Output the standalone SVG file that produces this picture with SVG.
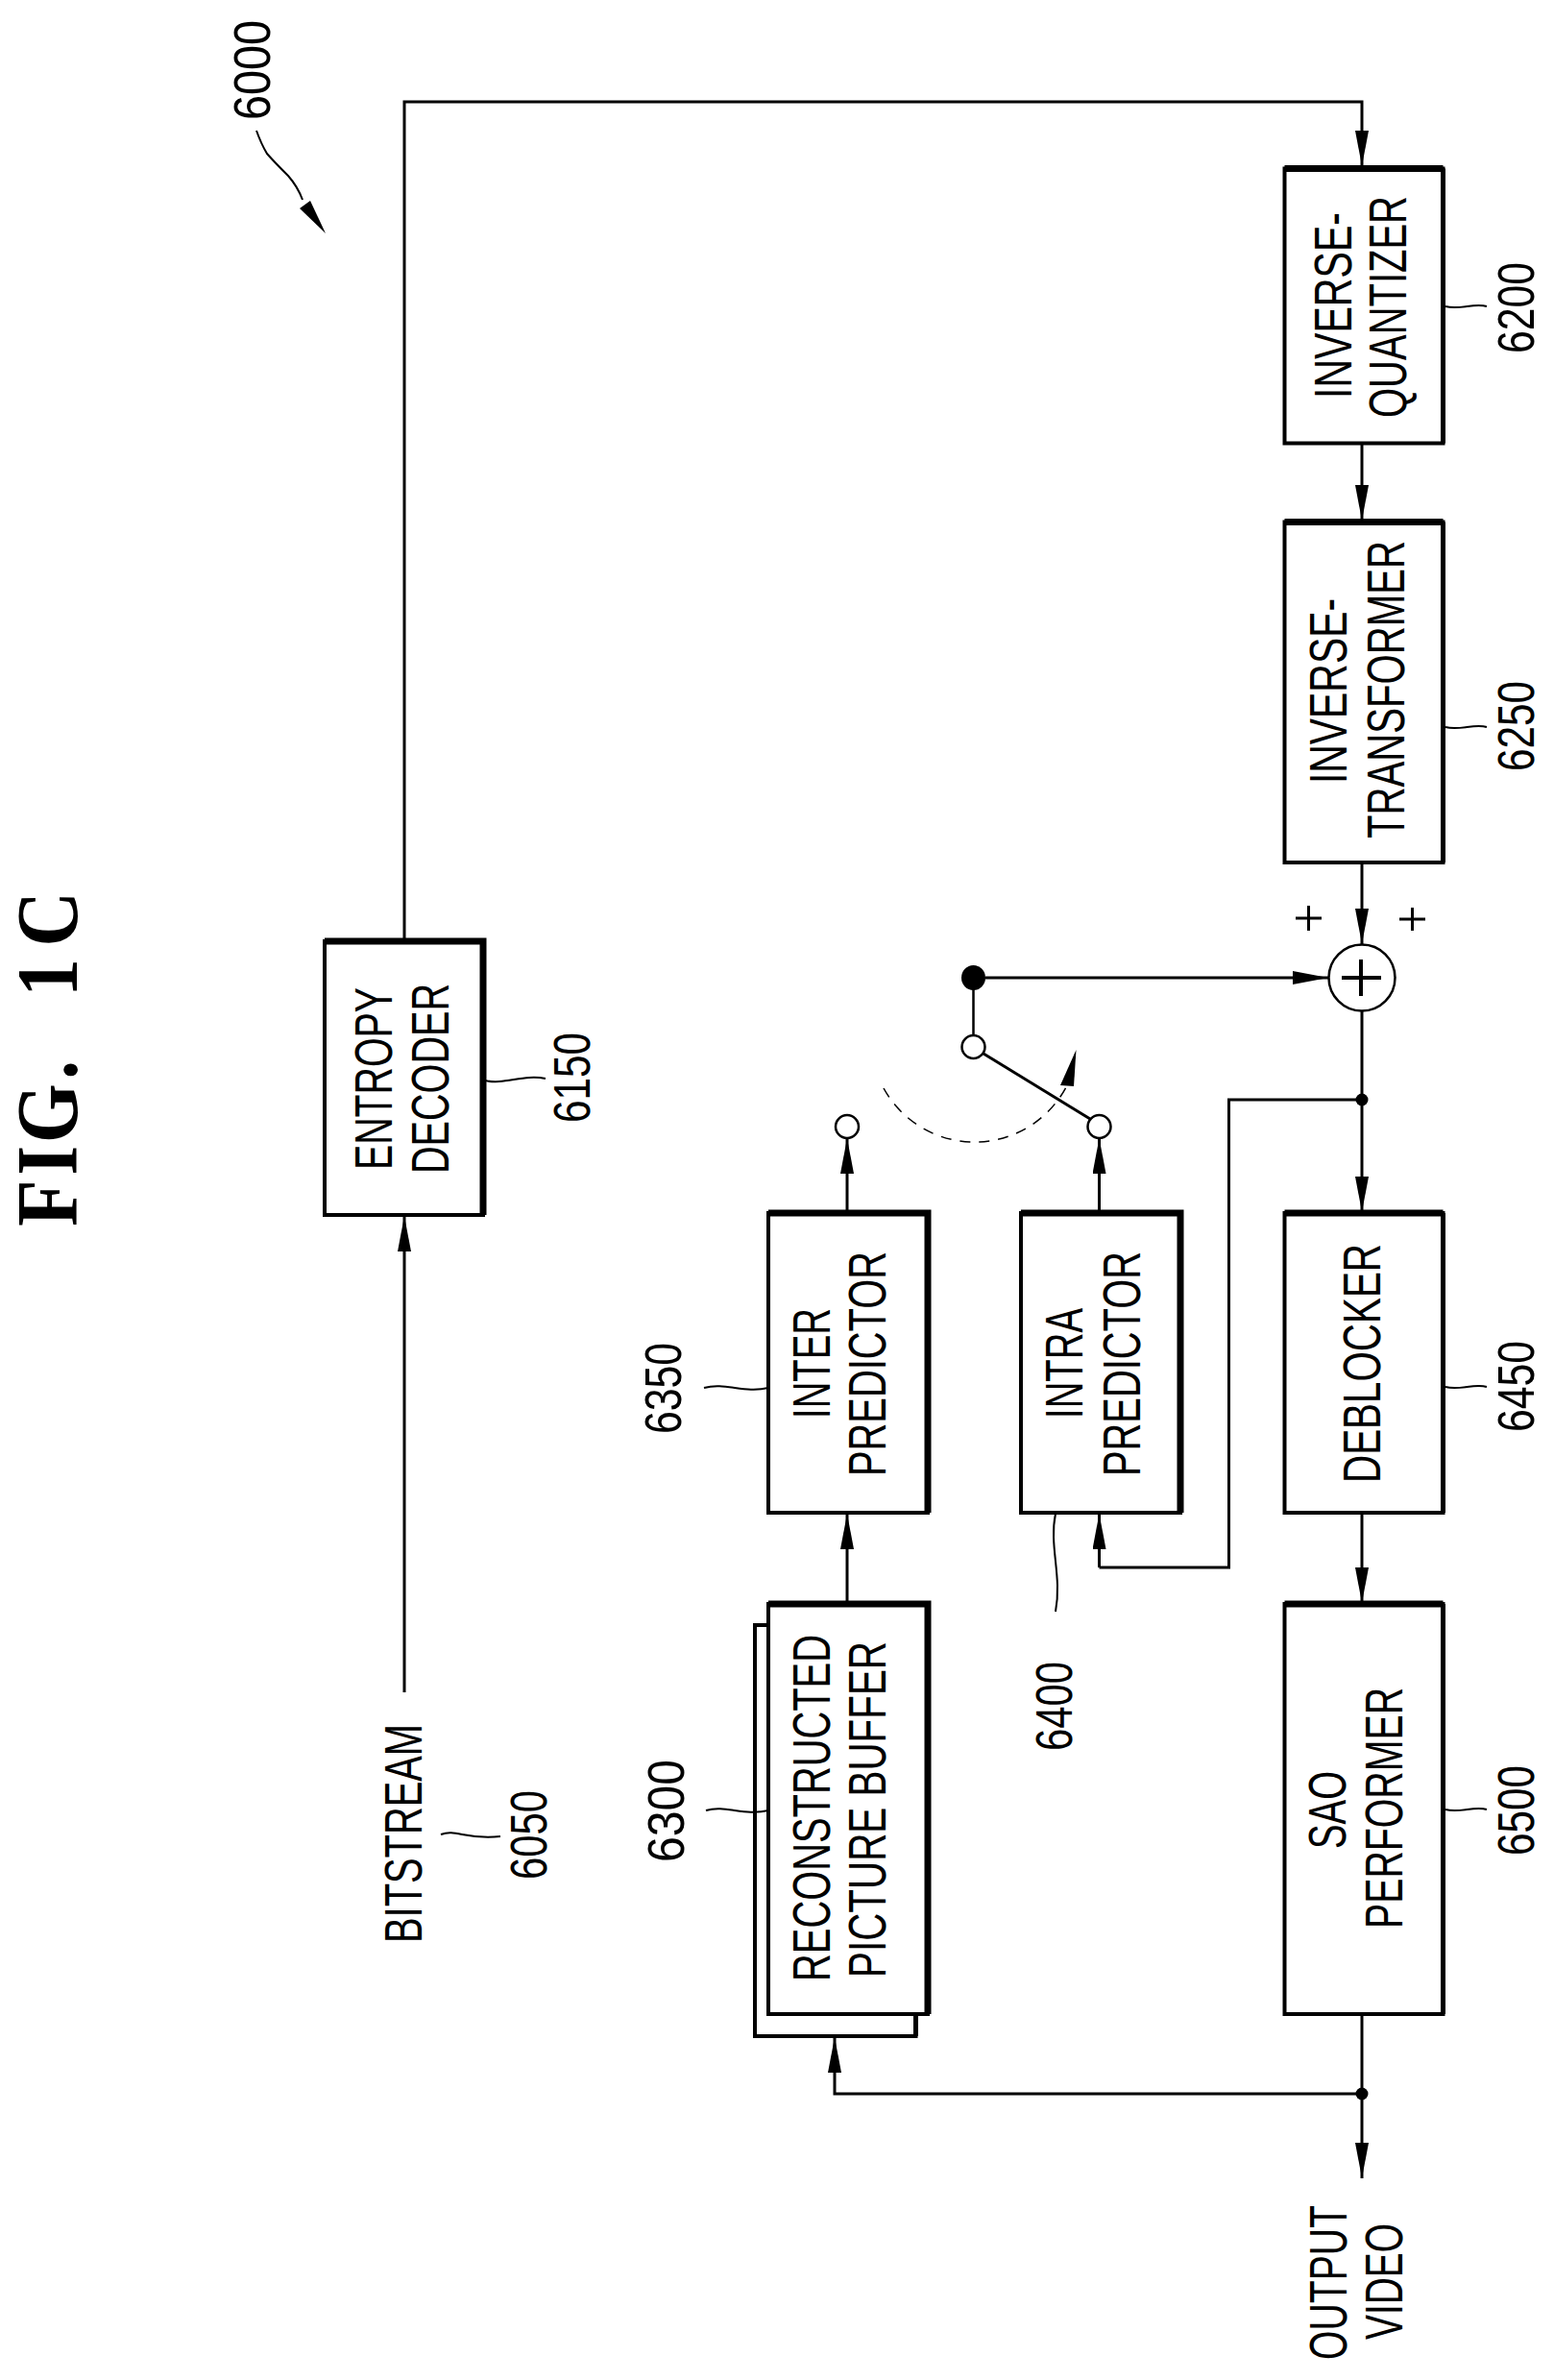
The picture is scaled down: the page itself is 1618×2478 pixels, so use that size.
<svg xmlns="http://www.w3.org/2000/svg" width="1618" height="2478" viewBox="0 0 1618 2478">
<style>
text{font-family:"Liberation Sans",Arial,sans-serif;fill:#000}
.l{font-size:56px}
.n{font-size:54px}
.t{font-family:"Liberation Serif","Times New Roman",serif;font-weight:bold;font-size:91px}
.b{fill:#fff;stroke:#000;stroke-width:4}
.s{fill:none;stroke:#000;stroke-width:7}
.r{fill:none;stroke:#000;stroke-width:5}
.c{fill:none;stroke:#000;stroke-width:3}
.a{marker-end:url(#arr)}
.w{fill:none;stroke:#000;stroke-width:2}
.o{fill:#fff;stroke:#000;stroke-width:2.5}
.d{fill:#000}
</style>
<defs>
<marker id="arr" markerUnits="userSpaceOnUse" markerWidth="38" markerHeight="14" viewBox="0 0 38 14" refX="37" refY="7" orient="auto"><path d="M0,0 L37,7 L0,14 z" fill="#000"/></marker>
</defs>
<rect width="1618" height="2478" fill="#fff"/>
<g id="title"><text class="t" transform="translate(80,1276) rotate(-90) scale(.87,1)" x="-1 60 99 175 200 274 334" y="0">FIG. 1C</text></g>
<g id="connectors">
<path class="c a" d="M421,980 V106 H1418 V173"/>
<path class="c a" d="M1418,462 V542"/>
<path class="c a" d="M1418,898 V983"/>
<path class="c a" d="M1026,1018 H1383"/>
<path class="c" style="stroke-width:2.500" d="M1013.500,1030 V1078"/>
<path class="c a" d="M1418,1053 V1262"/>
<path class="c" d="M1418,1145 H1279.500 V1632 H1144.500"/>
<path class="c a" d="M1144.500,1632 V1576"/>
<path class="c a" d="M882,1262 V1185"/>
<path class="c a" d="M1144.500,1262 V1185"/>
<path class="c a" d="M882,1670 V1576"/>
<path class="c a" d="M1418,1575 V1669"/>
<path class="c a" d="M421,1762 V1266"/>
<path class="c a" d="M1418,2097 V2268"/>
<path class="c a" d="M1418,2180 H869 V2121"/>
<circle class="d" cx="1418" cy="1145" r="6.500"/>
<circle class="d" cx="1418" cy="2180" r="6.500"/>
<path d="M920,1133 A108,108 0 0 0 1111,1130" fill="none" stroke="#000" stroke-width="1.500" stroke-dasharray="11 9"/>
<path d="M1120.500,1093 L1104,1130 L1118,1131 z" fill="#000"/>
<path class="w" d="M267,136 C272,150 275,155 278,160 C285,168 292,175 300,183 C308,192 312,200 315,208"/>
<path d="M339,243 L312,217 L323,209 z" fill="#000"/>
</g>
<g id="n6000"><text class="n" transform="translate(281,125) rotate(-90)" textLength="104" lengthAdjust="spacingAndGlyphs">6000</text></g>
<g id="n6050"><text class="l" transform="translate(439,2023) rotate(-90)" textLength="228" lengthAdjust="spacingAndGlyphs">BITSTREAM</text><path class="w" d="M459,1910 C475,1904 485,1916 521,1912"/><text class="n" transform="translate(569,1957) rotate(-90)" textLength="93" lengthAdjust="spacingAndGlyphs">6050</text></g>
<g id="n6150"><rect class="b" x="338" y="980" width="165" height="285"/><path class="s" d="M338,980 H503 V1265"/><text class="l" transform="translate(408,1218) rotate(-90)" textLength="190" lengthAdjust="spacingAndGlyphs">ENTROPY</text><text class="l" transform="translate(467,1222) rotate(-90)" textLength="198" lengthAdjust="spacingAndGlyphs">DECODER</text><path class="w" d="M505,1125 C525,1130 545,1118 568,1123"/><text class="n" transform="translate(614,1169) rotate(-90)" textLength="94" lengthAdjust="spacingAndGlyphs">6150</text></g>
<g id="n6200"><rect class="b" x="1337.500" y="175.500" width="165" height="286"/><path class="s" d="M1337.500,175.500 H1502.500"/><path class="r" d="M1502.500,175.500 V461.500"/><text class="l" transform="translate(1407,415) rotate(-90)" textLength="194" lengthAdjust="spacingAndGlyphs">INVERSE-</text><text class="l" transform="translate(1464,435) rotate(-90)" textLength="231" lengthAdjust="spacingAndGlyphs">QUANTIZER</text><path class="w" d="M1505,319 C1520,323 1535,315 1548,319"/><text class="n" transform="translate(1597,368) rotate(-90)" textLength="95" lengthAdjust="spacingAndGlyphs">6200</text></g>
<g id="n6250"><rect class="b" x="1337.500" y="543.500" width="165" height="354.500"/><path class="s" d="M1337.500,543.500 H1502.500"/><path class="r" d="M1502.500,543.500 V898"/><text class="l" transform="translate(1402,816) rotate(-90)" textLength="193" lengthAdjust="spacingAndGlyphs">INVERSE-</text><text class="l" transform="translate(1462,873) rotate(-90)" textLength="310" lengthAdjust="spacingAndGlyphs">TRANSFORMER</text><path class="w" d="M1505,757 C1520,761 1535,753 1548,757"/><text class="n" transform="translate(1597,803) rotate(-90)" textLength="94" lengthAdjust="spacingAndGlyphs">6250</text></g>
<g id="adder"><ellipse class="o" cx="1418" cy="1018" rx="34.500" ry="34.500"/><path class="c" style="stroke-width:4" d="M1397,1018 H1438 M1417,999 V1037"/></g>
<g id="plus"><path class="c" d="M1349,956 H1376 M1362.500,943 V969 M1457,957 H1484 M1470.500,945 V969"/></g>
<g id="switch"><ellipse class="d" cx="1013.500" cy="1018" rx="12.500" ry="13"/><circle class="o" cx="1013.500" cy="1090" r="12"/><path class="c" d="M1024,1097 L1135,1165"/><circle class="o" cx="882" cy="1173" r="12"/><circle class="o" cx="1144.500" cy="1173" r="12"/></g>
<g id="n6300"><rect class="b" x="786" y="1692" width="167.500" height="428"/><path class="r" d="M953.500,2097 V2120"/><rect class="b" x="800" y="1670" width="166" height="427"/><path class="s" d="M800,1670 H966 V2097"/><text class="l" transform="translate(864,2063) rotate(-90)" textLength="361" lengthAdjust="spacingAndGlyphs">RECONSTRUCTED</text><text class="l" transform="translate(922,2059) rotate(-90)" textLength="350" lengthAdjust="spacingAndGlyphs">PICTURE BUFFER</text><path class="w" d="M735,1885 C755,1879 775,1891 800,1885"/><text class="n" transform="translate(712,1939) rotate(-90)" textLength="107" lengthAdjust="spacingAndGlyphs">6300</text></g>
<g id="n6350"><rect class="b" x="800" y="1263" width="166" height="312"/><path class="s" d="M800,1263 H966 V1575"/><text class="l" transform="translate(864,1477) rotate(-90)" textLength="115" lengthAdjust="spacingAndGlyphs">INTER</text><text class="l" transform="translate(922,1537) rotate(-90)" textLength="234" lengthAdjust="spacingAndGlyphs">PREDICTOR</text><path class="w" d="M733,1445 C755,1439 775,1451 800,1445"/><text class="n" transform="translate(709,1493) rotate(-90)" textLength="95" lengthAdjust="spacingAndGlyphs">6350</text></g>
<g id="n6400"><rect class="b" x="1063" y="1263" width="166" height="312"/><path class="s" d="M1063,1263 H1229 V1575"/><text class="l" transform="translate(1127,1477) rotate(-90)" textLength="115" lengthAdjust="spacingAndGlyphs">INTRA</text><text class="l" transform="translate(1187,1537) rotate(-90)" textLength="234" lengthAdjust="spacingAndGlyphs">PREDICTOR</text><path class="w" d="M1099,1576 C1092,1610 1106,1640 1099,1678"/><text class="n" transform="translate(1116,1823) rotate(-90)" textLength="93" lengthAdjust="spacingAndGlyphs">6400</text></g>
<g id="n6450"><rect class="b" x="1337.500" y="1263" width="165" height="312"/><path class="s" d="M1337.500,1263 H1502.500"/><path class="r" d="M1502.500,1263 V1575"/><text class="l" transform="translate(1437,1544) rotate(-90)" textLength="249" lengthAdjust="spacingAndGlyphs">DEBLOCKER</text><path class="w" d="M1505,1444 C1520,1448 1535,1440 1548,1444"/><text class="n" transform="translate(1597,1491) rotate(-90)" textLength="95" lengthAdjust="spacingAndGlyphs">6450</text></g>
<g id="n6500"><rect class="b" x="1337.500" y="1670" width="165" height="427"/><path class="s" d="M1337.500,1670 H1502.500"/><path class="r" d="M1502.500,1670 V2097"/><text class="l" transform="translate(1401,1925) rotate(-90)" textLength="81" lengthAdjust="spacingAndGlyphs">SAO</text><text class="l" transform="translate(1460,2008) rotate(-90)" textLength="251" lengthAdjust="spacingAndGlyphs">PERFORMER</text><path class="w" d="M1505,1884 C1520,1888 1535,1880 1548,1884"/><text class="n" transform="translate(1597,1932) rotate(-90)" textLength="94" lengthAdjust="spacingAndGlyphs">6500</text></g>
<g id="output"><text class="l" transform="translate(1402,2457) rotate(-90)" textLength="161" lengthAdjust="spacingAndGlyphs">OUTPUT</text><text class="l" transform="translate(1460,2436) rotate(-90)" textLength="121" lengthAdjust="spacingAndGlyphs">VIDEO</text></g>
</svg>
